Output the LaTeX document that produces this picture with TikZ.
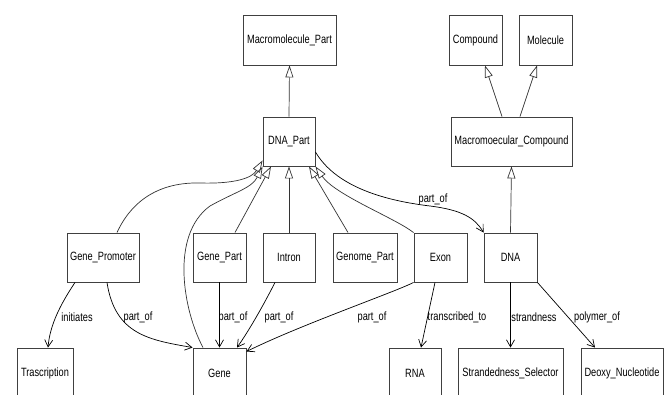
\documentclass[tikz,border=0pt]{standalone}
\usepackage{fontspec}
\setmainfont{Liberation Sans}[FakeStretch=0.77]
\usetikzlibrary{arrows.meta}
\begin{document}
\begin{tikzpicture}[x=1pt,y=-1pt,
  box/.style={draw=black!75, line width=0.9pt, minimum height=49pt, inner sep=0pt, fill=white, font=\fontsize{12}{13}\selectfont},
  inh/.style={draw=black!80, line width=0.7pt, -{Triangle[open,length=12pt,width=8pt]}},
  assoc/.style={draw=black, line width=0.7pt, -{Straight Barb[length=7pt,width=8pt]}},
  lbl/.style={font=\fontsize{12}{13}\selectfont, inner sep=1pt}]
\fill[white] (0,0) rectangle (667,394);
\useasboundingbox (0,0) rectangle (667,394);
\clip (0,0) rectangle (667,394);
% nodes
\node[box, minimum width=93pt, minimum height=50pt] (MP) at (289.5,40) {Macromolecule\_Part};
\node[box, minimum width=53pt, minimum height=50pt] (CO) at (475.5,40) {Compound};
\node[box, minimum width=53pt, minimum height=50pt] (MO) at (545.5,40) {Molecule};
\node[box, minimum width=52pt] (DP) at (289,141.5) {DNA\_Part};
\node[box, minimum width=121pt] (MC) at (511.5,141.5) {Macromoecular\_Compound};
\node[box, minimum width=72pt] (GP) at (103,257.5) {Gene\_Promoter};
\node[box, minimum width=53pt] (GPa) at (219.5,257.5) {Gene\_Part};
\node[box, minimum width=52pt] (IN) at (289,257.5) {Intron};
\node[box, minimum width=64pt] (GE) at (365,257.5) {Genome\_Part};
\node[box, minimum width=53pt] (EX) at (440.5,257.5) {Exon};
\node[box, minimum width=53pt] (DNA) at (510.5,257.5) {DNA};
\node[box, minimum width=56pt, minimum height=50pt] (TR) at (45,373) {Trascription};
\node[box, minimum width=53pt, minimum height=50pt] (GN) at (219.5,373) {Gene};
\node[box, minimum width=52pt, minimum height=50pt] (RNA) at (415,373) {RNA};
\node[box, minimum width=105pt, minimum height=50pt] (SS) at (510.5,373) {Strandedness\_Selector};
\node[box, minimum width=82pt, minimum height=50pt] (DN) at (622,373) {Deoxy\_Nucleotide};
% inheritance
\draw[inh] (DP.north) -- (MP.south);
\draw[inh] ([xshift=-9.5pt]MC.north) -- ([xshift=9.5pt]CO.south);
\draw[inh] ([xshift=8.5pt]MC.north) -- ([xshift=-8.5pt]MO.south);
\draw[inh] (DNA.north) -- (MC.south);
\draw[inh] (IN.north) -- (DP.south);
\draw[inh] ([xshift=15.5pt]GPa.north) -- ([xshift=-18pt]DP.south);
\draw[inh] ([xshift=-17pt]GE.north) -- ([xshift=20pt]DP.south);
\draw[inh] (EX.north west) .. controls (395,218) and (335,195) .. (DP.south east);
\draw[inh] ([xshift=14pt]GP.north) .. controls (132,200) and (160,182) .. (200,183) .. controls (235,184) and (252,178) .. ([yshift=6pt]DP.south west);
\draw[inh] ([xshift=-16.5pt]GN.north) .. controls (183,310) and (170,235) .. (210,206) .. controls (235,192) and (252,188) .. (DP.south west);
% associations
\draw[assoc] ([yshift=-10.5pt]DP.east) .. controls (335,185) and (380,200) .. (430,206) .. controls (462,210) and (475,218) .. (DNA.north west);
\node[lbl] (l1) at (433,199) {part\_of};
\draw[assoc] ([xshift=-28pt]GP.south) .. controls (60,305) and (50,325) .. ([xshift=3pt]TR.north);
\node[lbl] (l2) at (77,317) {initiates};
\draw[assoc] ([xshift=4pt]GP.south) .. controls (115,335) and (150,340) .. (GN.north west);
\node[lbl] (l3) at (138,317) {part\_of};
\draw[assoc] (GPa.south) -- (GN.north);
\node[lbl] (l4) at (233,317) {part\_of};
\draw[assoc] ([xshift=-14pt]IN.south) .. controls (262,308) and (248,332) .. ([xshift=17.5pt]GN.north);
\node[lbl] (l5) at (279,317) {part\_of};
\draw[assoc] (EX.south west) .. controls (395,292) and (300,325) .. ([yshift=-4pt]GN.north east);
\node[lbl] (l6) at (372,317) {part\_of};
\draw[assoc] ([xshift=-5.5pt]EX.south) -- ([xshift=6pt]RNA.north);
\node[lbl] (l7) at (457,317) {transcribed\_to};
\draw[assoc] (DNA.south) -- (SS.north);
\node[lbl] (l8) at (534,317) {strandness};
\draw[assoc] (DNA.south east) -- ([xshift=-27pt]DN.north);
\node[lbl] (l9) at (597,317) {polymer\_of};
\end{tikzpicture}
\end{document}
